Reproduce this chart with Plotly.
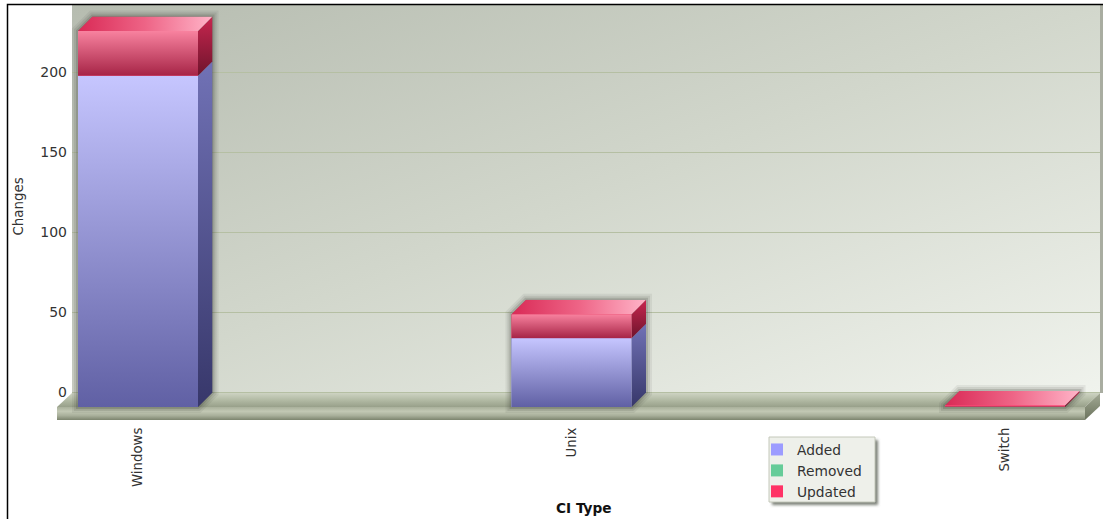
import base64
import plotly.graph_objects as go

# ---------- data ----------
CATEGORIES = ["Windows", "Unix", "Switch"]
ADDED = [207, 43, 0]
REMOVED = [0, 0, 0]
UPDATED = [28, 15, 1]
Y_TICKS = [0, 50, 100, 150, 200]

# ---------- geometry (px) ----------
W, H = 1103, 520
PL, PR, PT, PB = 57, 1100, 5, 421
X_C0, X_STEP = 138.0, 433.5
Y_ZERO, Y_SCALE = 392.0, 1.6
BAR_W = 120 / X_STEP
DX = 14.5 / X_STEP
DY = 14.5 / Y_SCALE
BASE = -15 / Y_SCALE


def xd(px):
    return (px - X_C0) / X_STEP


def yd(py):
    return (Y_ZERO - py) / Y_SCALE


def pxp(px):
    return (px - PL) / (PR - PL)


def pyp(py):
    return (PB - py) / (PB - PT)


images = []


def add_svg(body, x0, x1, y0, y1, layer):
    w = (x1 - x0) * X_STEP
    h = (y1 - y0) * Y_SCALE
    svg = (
        f'<svg xmlns="http://www.w3.org/2000/svg" width="{w:.2f}" height="{h:.2f}" '
        f'viewBox="0 0 {w:.2f} {h:.2f}" preserveAspectRatio="none">{body}</svg>'
    )
    src = "data:image/svg+xml;base64," + base64.b64encode(svg.encode()).decode()
    images.append(
        dict(
            source=src, xref="x", yref="y", x=x0, y=y1, sizex=x1 - x0, sizey=y1 - y0,
            xanchor="left", yanchor="top", sizing="stretch", layer=layer, opacity=1,
        )
    )


def poly(points, stops, angle=(0, 0, 0, 1), layer="above"):
    xs = [p[0] for p in points]
    ys = [p[1] for p in points]
    x0, x1, y0, y1 = min(xs), max(xs), min(ys), max(ys)
    pts = " ".join(f"{(x - x0) * X_STEP:.2f},{(y1 - y) * Y_SCALE:.2f}" for x, y in points)
    st = "".join(f'<stop offset="{o}" stop-color="{c}"/>' for o, c in stops)
    body = (
        f'<defs><linearGradient id="g" x1="{angle[0]}" y1="{angle[1]}" x2="{angle[2]}" y2="{angle[3]}">{st}'
        f'</linearGradient></defs><polygon points="{pts}" fill="url(#g)"/>'
    )
    add_svg(body, x0, x1, y0, y1, layer)


def s(*cols):
    n = len(cols) - 1
    return [(i / n, c) for i, c in enumerate(cols)]


# wall
poly(
    [(xd(72), yd(PT)), (xd(PR), yd(PT)), (xd(PR), yd(393)), (xd(72), yd(393))],
    s("#b6bcb0", "#d2d7cc", "#f0f3ed"), angle=(0, 0, 1, 1), layer="below",
)
# floor: top, front, side
poly(
    [(xd(72), yd(393)), (xd(1100), yd(393)), (xd(1085), yd(407)), (xd(57), yd(407))],
    s("#cdd3c2", "#b2baa4", "#98a08a"), layer="below",
)
poly(
    [(xd(57), yd(407)), (xd(1085), yd(407)), (xd(1085), yd(420)), (xd(57), yd(420))],
    s("#a9b09b", "#c2c8b4", "#a8af9a", "#7c846e"), layer="below",
)
poly(
    [(xd(1085), yd(407)), (xd(1100), yd(393)), (xd(1100), yd(406)), (xd(1085), yd(420))],
    s("#a3aa95", "#6b735d"), layer="below",
)

# gradient shading of the stacked boxes, sized from the data
BLUE = dict(front=("#c6c6ff", "#6060a4"), side=("#7172b6", "#37376a"))
RED = dict(front=("#f8829f", "#a62446"), side=("#c8264f", "#6e142c"))
for i in range(len(CATEGORIES)):
    l, r = i - BAR_W / 2, i + BAR_W / 2
    level = BASE
    for val, col in ((ADDED[i], BLUE), (UPDATED[i], RED)):
        if val <= 0:
            continue
        top = level + val
        poly([(l, top), (r, top), (r, level), (l, level)], s(*col["front"]))
        poly([(r, top), (r + DX, top + DY), (r + DX, level + DY), (r, level)], s(*col["side"]))
        level = top
    poly(
        [(l, level), (l + DX, level + DY), (r + DX, level + DY), (r, level)],
        s("#d92a56", "#ee6486", "#ffb4c8"), angle=(0, 0, 1, 0),
    )

# soft legend shadow (paper-positioned)
sh = (
    '<svg xmlns="http://www.w3.org/2000/svg" width="130" height="90" viewBox="0 0 130 90">'
    '<filter id="b" x="-20%" y="-20%" width="140%" height="140%"><feGaussianBlur stdDeviation="1.8"/></filter>'
    '<rect x="12" y="12" width="106" height="65" fill="#50554a" fill-opacity="0.75" filter="url(#b)"/></svg>'
)
images.append(
    dict(
        source="data:image/svg+xml;base64," + base64.b64encode(sh.encode()).decode(),
        xref="paper", yref="paper", x=pxp(760), y=pyp(428), sizex=130 / (PR - PL), sizey=90 / (PB - PT),
        xanchor="left", yanchor="top", sizing="stretch", layer="below",
    )
)

x_pos = list(range(len(CATEGORIES)))
base_upd = [BASE + a for a in ADDED]

fig = go.Figure()
common = dict(x=x_pos, width=[BAR_W] * len(x_pos), marker_line_width=0, hoverinfo="skip")
fig.add_trace(go.Bar(name="Added", y=ADDED, base=[BASE] * len(x_pos), marker_color="#9c9cff", **common))
fig.add_trace(go.Bar(name="Removed", y=REMOVED, base=base_upd, marker_color="#66cc99", **common))
fig.add_trace(go.Bar(name="Updated", y=UPDATED, base=base_upd, marker_color="#ff3366", **common))

shapes = [
    # hides the gridlines left of the wall
    dict(type="rect", xref="x", yref="y", x0=xd(PL - 1), x1=xd(72), y0=yd(393), y1=yd(PT - 1),
         fillcolor="white", line_width=0, layer="between"),
    # right edge of the wall
    dict(type="rect", xref="paper", yref="paper", x0=pxp(1100), x1=pxp(1103), y0=pyp(393), y1=pyp(5),
         fillcolor="#a9ada1", line_width=0, layer="below"),
    # outer frame
    dict(type="path", xref="paper", yref="paper",
         path=f"M {pxp(7.5)} {pyp(519)} L {pxp(7.5)} {pyp(4.5)} L {pxp(1103)} {pyp(4.5)}",
         line=dict(color="#000000", width=1.5), layer="above"),
    # legend box sits above the shadow image
    dict(type="rect", xref="paper", yref="paper", x0=pxp(769), x1=pxp(875), y0=pyp(502), y1=pyp(437),
         fillcolor="#eef0ea", line=dict(color="#c4c8ba", width=1), layer="below"),
]

# soft shadow behind each box: stacked translucent outlines, sized from the data
for i in range(len(CATEGORIES)):
    top = BASE + ADDED[i] + REMOVED[i] + UPDATED[i]
    l, r = i - BAR_W / 2, i + BAR_W / 2
    outline = [(l + DX, top + DY), (r + DX, top + DY), (r + DX, BASE + DY), (r, BASE), (l, BASE), (l, top)]
    path = "M " + " L ".join(f"{x} {y}" for x, y in outline) + " Z"
    for width, alpha in ((12, 0.07), (8, 0.10), (4, 0.16)):
        shapes.append(
            dict(type="path", xref="x", yref="y", path=path, layer="between",
                 fillcolor=f"rgba(45,48,38,{alpha})",
                 line=dict(color=f"rgba(45,48,38,{alpha})", width=width))
        )

TICK = "#333333"
FONT = "DejaVu Sans"

fig.update_layout(
    width=W, height=H, autosize=False,
    margin=dict(l=PL, r=W - PR, t=PT, b=H - PB, pad=0),
    paper_bgcolor="white", plot_bgcolor="rgba(0,0,0,0)",
    barmode="overlay", showlegend=True,
    font=dict(family=FONT, color=TICK, size=13),
    images=images, shapes=shapes,
    legend=dict(
        x=pxp(757), y=pyp(434), xanchor="left", yanchor="top",
        bgcolor="rgba(0,0,0,0)", borderwidth=0, traceorder="normal",
        font=dict(size=13.8, family=FONT, color=TICK),
    ),
    xaxis=dict(
        range=[xd(PL), xd(PR)], tickmode="array", tickvals=x_pos, ticktext=CATEGORIES,
        tickangle=-90, showgrid=False, zeroline=False, showline=False, ticks="",
        ticklabelstandoff=3,
        tickfont=dict(size=13.3, family=FONT, color=TICK),
    ),
    yaxis=dict(
        range=[yd(PB), yd(PT)], tickmode="array", tickvals=Y_TICKS,
        showgrid=True, gridcolor="#b5bfa3", gridwidth=1, zeroline=False, showline=False, ticks="",
        ticklabelstandoff=-11,
        tickfont=dict(size=14, family=FONT, color=TICK),
    ),
    annotations=[
        dict(text="<b>CI Type</b>", xref="paper", yref="paper", x=pxp(584), y=pyp(508), showarrow=False,
             xanchor="center", yanchor="middle", font=dict(size=13.7, family=FONT, color="#111111")),
        dict(text="Changes", xref="paper", yref="paper", x=pxp(18), y=pyp(206.5), showarrow=False, textangle=-90,
             xanchor="center", yanchor="middle", font=dict(size=13.4, family=FONT, color=TICK)),
    ],
)

fig.write_html(
    "out.html",
    config=dict(displayModeBar=False),
    post_script="document.body.style.margin='0';document.body.style.overflow='hidden';",
)
